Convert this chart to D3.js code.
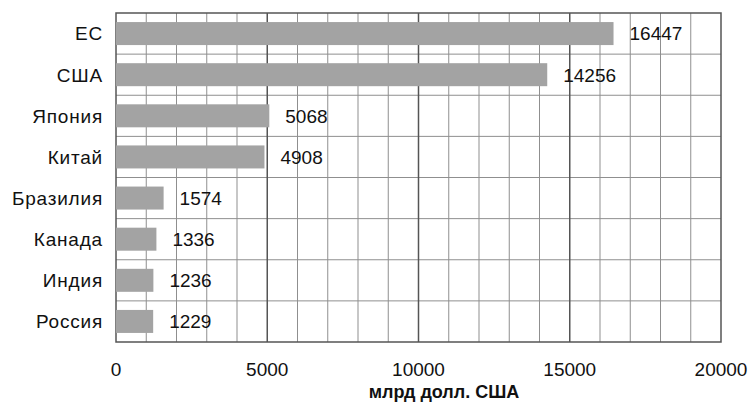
<!doctype html>
<html>
  <head>
    <script src="https://cdnjs.cloudflare.com/ajax/libs/d3/7.8.5/d3.min.js"></script>
    <style>
      body { margin: 0; background: #fff; }
      text { font-family: "Liberation Sans", Arial, sans-serif; fill: #111; }
    </style>
  </head>
  <body>
    <svg id="chart" width="748" height="405"></svg>
    <script>
        var countries = ["ЕС", "США", "Япония", "Китай", "Бразилия", "Канада", "Индия", "Россия"];
        var values = [16447, 14256, 5068, 4908, 1574, 1336, 1236, 1229];
        var majorTicks = [0, 5000, 10000, 15000, 20000];
        var axisTitle = "млрд долл. США";

        var margin = {left: 116, right: 27, top: 13, bottom: 63};
        var W = 748, H = 405;

        var svg = d3.select("#chart");

        var x = d3.scaleLinear()
            .domain([0, 20000])
            .range([margin.left, W - margin.right]);

        var y = d3.scaleBand()
            .domain(countries)
            .range([margin.top, H - margin.bottom])
            .paddingInner(0)
            .paddingOuter(0);

        var grid = svg.append("g");

        // minor vertical lines every 1000
        grid.selectAll("line.minor")
            .data(d3.range(1000, 20000, 1000).filter(d => d % 5000 != 0))
            .enter()
            .append("line")
                .attr("x1", d => x(d)).attr("x2", d => x(d))
                .attr("y1", y.range()[0]).attr("y2", y.range()[1])
                .style("stroke", "#8f8f8f")
                .style("stroke-width", 1);

        // row separators
        grid.selectAll("line.row")
            .data(countries.slice(1))
            .enter()
            .append("line")
                .attr("x1", x(0)).attr("x2", x(20000))
                .attr("y1", d => y(d)).attr("y2", d => y(d))
                .style("stroke", "#8f8f8f")
                .style("stroke-width", 1);

        // major vertical lines
        grid.selectAll("line.major")
            .data([5000, 10000, 15000])
            .enter()
            .append("line")
                .attr("x1", d => x(d)).attr("x2", d => x(d))
                .attr("y1", y.range()[0]).attr("y2", y.range()[1])
                .style("stroke", "#555")
                .style("stroke-width", 1.5);

        // frame
        svg.append("rect")
            .attr("x", x(0)).attr("y", y.range()[0])
            .attr("width", x(20000) - x(0))
            .attr("height", y.range()[1] - y.range()[0])
            .style("fill", "none")
            .style("stroke", "#555")
            .style("stroke-width", 1.5);

        var barH = 23;

        svg.selectAll("rect.bar")
            .data(values)
            .enter()
            .append("rect")
                .attr("class", "bar")
                .attr("x", x(0))
                .attr("y", (d, i) => y(countries[i]) + y.bandwidth() / 2 - barH / 2)
                .attr("width", d => x(d) - x(0))
                .attr("height", barH)
                .style("fill", "#a3a3a3");

        svg.selectAll("text.val")
            .data(values)
            .enter()
            .append("text")
                .attr("x", d => x(d) + 16)
                .attr("y", (d, i) => y(countries[i]) + y.bandwidth() / 2)
                .attr("dy", "0.36em")
                .style("font-size", "19px")
                .text(d => d);

        svg.selectAll("text.cat")
            .data(countries)
            .enter()
            .append("text")
                .attr("x", x(0) - 13)
                .attr("y", d => y(d) + y.bandwidth() / 2)
                .attr("dy", "0.36em")
                .attr("text-anchor", "end")
                .style("font-size", "19px")
                .style("letter-spacing", "0.8px")
                .text(d => d);

        svg.selectAll("text.tick")
            .data(majorTicks)
            .enter()
            .append("text")
                .attr("x", d => x(d))
                .attr("y", 369)
                .attr("dy", "0.36em")
                .attr("text-anchor", "middle")
                .style("font-size", "19px")
                .text(d => d);

        svg.append("text")
            .attr("x", 444)
            .attr("y", 392)
            .attr("dy", "0.36em")
            .attr("text-anchor", "middle")
            .style("font-size", "18px")
            .style("font-weight", "bold")
            .text(axisTitle);
    </script>
  </body>
</html>
